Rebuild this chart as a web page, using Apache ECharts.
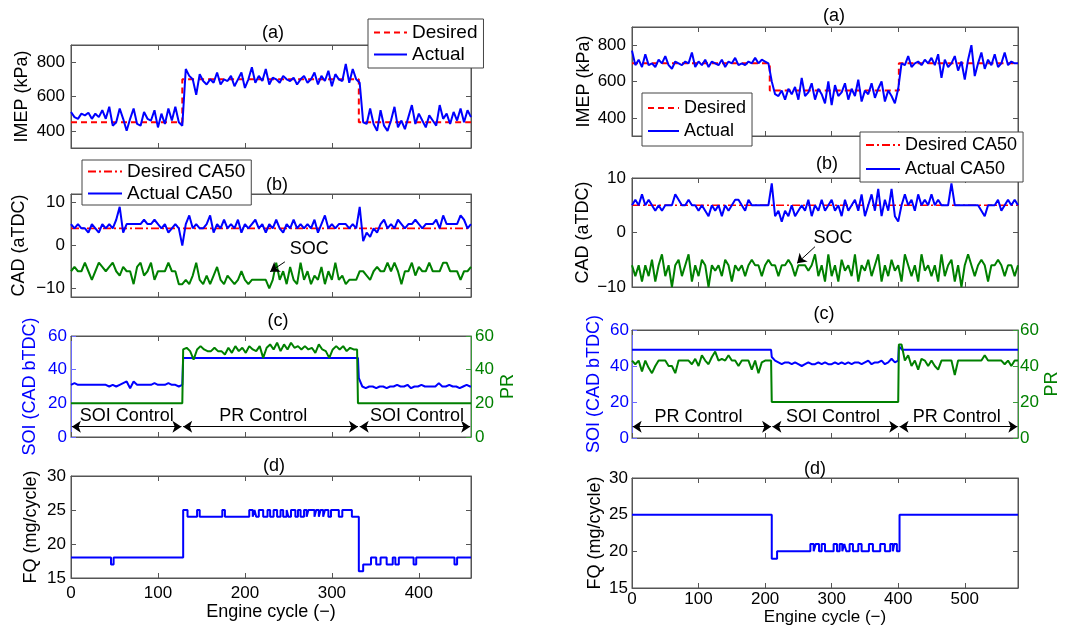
<!DOCTYPE html>
<html><head><meta charset="utf-8">
<script src="https://cdn.jsdelivr.net/npm/echarts@6/dist/echarts.min.js"></script>
<style>html,body{margin:0;padding:0;background:#fff}#c{width:1077px;height:636px}</style>
</head><body><div id="c"></div>
<script>
const FONT = "'Liberation Sans', Arial, Helvetica, sans-serif";
// ---------- tick labels ----------
const xTicksLeft = [0,100,200,300,400];
const xTicksRight = [0,100,200,300,400,500];
const imepTicks = [400,600,800];
const cadTicks = [-10,0,10];
const soiTicks = [0,20,40,60];
const fqTicks = [15,20,25,30];
// sampling interval (engine cycles) of the sampled series
const LEFT_STEP = 4;
const RIGHT_STEP = 5;

// ---------- LEFT experiment (0..460 cycles) ----------
const imepDesiredLeft = [[0,450],[128,700],[331,450],[460,450]];
const imepActualLeft = [
 510,480,470,500,490,505,470,500,480,520,
 470,540,430,450,530,470,400,470,530,440,
 430,510,470,460,520,420,500,440,530,460,
 540,450,430,760,720,700,610,730,690,670,
 700,680,740,670,700,690,720,660,700,740,
 650,700,770,680,720,690,760,670,710,700,
 680,720,700,690,710,670,700,720,680,700,
 740,670,720,690,750,660,730,700,690,790,
 680,760,700,680,450,440,530,440,400,520,
 430,400,460,540,420,460,410,480,550,440,
 500,460,420,490,460,430,550,470,500,440,
 510,460,530,450,520,480];
const ca50DesiredLeft = [[0,4],[460,4]];
const ca50ActualLeft = [
 5,4,5,4,4,3,5,4,3,5,
 4,5,4,6,9,3,5,5,5,5,
 5,6,5,5,6,5,4,5,3,4,
 5,4,0,5,7,4,5,4,4,5,
 7,3,5,4,6,4,5,4,6,3,
 5,4,5,6,4,5,3,5,4,6,
 4,3,5,4,6,4,5,4,5,4,
 6,3,5,7,4,5,4,5,5,5,
 4,5,4,9,1,3,2,4,3,5,
 6,4,5,4,6,5,4,5,5,6,
 5,4,5,5,5,6,4,7,5,5,
 5,5,7,6,4,5];
const socLeft = [
 -6,-5,-6,-6,-4,-6,-8,-6,-4,-5,
 -6,-5,-4,-6,-7,-5,-6,-6,-9,-5,
 -4,-7,-6,-4,-8,-6,-6,-6,-4,-6,
 -6,-9,-9,-8,-9,-7,-4,-8,-9,-7,
 -9,-7,-5,-8,-9,-7,-8,-9,-8,-6,
 -8,-9,-8,-8,-8,-8,-8,-10,-8,-4,
 -8,-6,-9,-5,-8,-9,-4,-8,-6,-9,
 -7,-8,-5,-9,-6,-8,-4,-8,-7,-9,
 -8,-8,-8,-6,-6,-7,-8,-6,-5,-6,
 -6,-4,-6,-4,-6,-9,-6,-6,-4,-7,
 -5,-6,-6,-4,-6,-6,-6,-4,-4,-6,
 -6,-6,-8,-6,-6,-5];
// SOI: sampled SOI-control sections + constant PR-control section
const soiLeftFirst = [            // cycles 0..128, every 4
 31,32,31,31,31,31,31,31,31,31,
 31,30,31,30,31,32,33,29,33,31,
 31,31,31,31,32,31,31,31,32,31,
 31,30,31];
const soiLeftHeld = [[129,47],[330,47]];
const soiLeftLast = [             // cycles 331..459, every 4
 35,30,29,30,30,29,30,30,29,30,
 30,31,30,30,31,29,30,30,31,30,
 30,30,30,32,30,30,31,30,30,29,
 30,31,30];
// PR: constant in SOI-control sections, sampled in PR-control section
const prLeftHeldA = [[0,20],[128,20]];
const prLeftMid = [               // cycles 129..329, every 4
 52,53,51,46,52,54,52,51,51,53,
 51,51,49,53,50,54,51,53,50,54,
 52,51,54,47,53,55,52,56,51,55,
 52,56,53,54,52,54,52,53,50,55,
 52,51,47,52,54,52,54,51,53,52,
 52];
const prLeftHeldB = [[330,20],[460,20]];
// fuel quantity: [cycle where value starts, value]
const fqLeft = [[0,18],[46,17],[49,18],[129,25],[134,24],[145,25],[148,24],[174,25],[177,24],
 [205,25],[209,24],[211,25],[213,24],[216,25],[221,24],[226,25],[229,24],[233,25],[237,24],
 [241,25],[244,24],[248,25],[250,24],[253,25],[258,24],[261,25],[264,24],[268,25],[271,24],
 [273,25],[280,24],[282,25],[285,24],[287,25],[290,24],[292,25],[296,24],[299,25],[308,24],
 [312,25],[323,24],[331,16],[336,17],[345,18],[351,17],[356,18],[363,17],[370,18],[373,17],
 [377,18],[394,17],[397,18],[441,17],[444,18],[460,18]];

// ---------- RIGHT experiment (0..580 cycles) ----------
const imepDesiredRight = [[0,700],[207,550],[401,700],[580,700]];
const imepActualRight = [
 770,690,720,680,750,690,700,680,720,700,
 740,690,670,710,700,690,710,700,760,680,
 710,690,720,680,710,700,690,720,680,710,
 700,730,690,700,690,710,700,730,700,720,
 710,700,600,530,520,550,500,560,530,570,
 500,620,520,540,590,500,560,530,480,600,
 470,580,520,540,590,500,560,520,610,490,
 550,530,590,510,560,600,490,550,520,480,
 560,700,690,740,680,700,710,690,720,700,
 730,690,750,620,720,680,700,740,660,710,
 610,720,800,630,700,760,670,720,690,750,
 680,700,760,690,710,700,700];
const ca50DesiredRight = [[0,5],[580,5]];
const ca50ActualRight = [
 5,6,5,7,5,6,5,4,5,4,
 5,5,5,7,6,5,5,6,5,5,
 4,5,4,3,5,4,5,3,5,4,
 5,6,6,5,4,6,5,5,5,5,
 5,5,9,3,4,2,4,3,5,3,
 4,5,4,6,3,5,4,6,4,5,
 6,4,5,3,6,4,5,6,4,7,
 3,5,7,4,8,3,6,4,8,3,
 2,5,7,5,6,4,7,5,6,5,
 7,5,6,5,5,5,9,5,5,5,
 5,5,5,5,5,4,3,5,5,5,
 6,4,5,6,5,6,5];
const socRight = [
 -6,-8,-6,-9,-6,-8,-5,-9,-6,-4,
 -8,-6,-10,-6,-5,-8,-6,-4,-9,-6,
 -8,-5,-6,-10,-6,-7,-6,-8,-5,-6,
 -9,-6,-7,-6,-8,-6,-5,-6,-6,-8,
 -6,-5,-6,-6,-8,-6,-6,-5,-6,-8,
 -6,-6,-6,-7,-6,-4,-8,-6,-9,-4,
 -8,-6,-9,-5,-7,-6,-8,-4,-9,-6,
 -7,-5,-8,-6,-4,-9,-6,-8,-5,-7,
 -6,-9,-4,-6,-8,-6,-9,-4,-7,-6,
 -8,-6,-9,-4,-8,-6,-5,-9,-6,-10,
 -6,-4,-6,-8,-6,-5,-6,-9,-6,-6,
 -5,-6,-8,-6,-6,-8,-6];
const soiRightHeldA = [[0,49],[209,49]];
const soiRightMid = [             // cycles 210..400, every 5
 45,43,42,41,42,42,41,42,41,40,
 41,42,41,41,42,41,42,41,41,42,
 41,42,41,42,41,42,42,41,42,43,
 41,42,42,43,41,42,44,42,43];
const soiRightHeldB = [[401,51],[406,49],[580,49]];
const prRightFirst = [            // cycles 0..205, every 5
 43,41,43,37,43,39,36,40,43,43,
 43,40,40,36,43,43,43,43,41,44,
 40,46,43,41,45,48,43,44,43,46,
 43,43,40,43,43,43,38,43,36,42,
 43,43];
const prRightHeld = [[209,43],[210,20],[400,20],[401,52]];
const prRightLast = [             // cycles 405..580, every 5
 52,43,46,40,43,38,44,43,40,
 43,40,38,43,43,43,43,35,43,43,
 43,43,43,43,43,43,46,43,43,43,
 43,43,41,43,40,43,43];
const fqRight = [[0,25],[210,19],[218,20],[268,21],[273,20],[276,21],[281,20],[285,21],[290,20],
 [303,21],[308,20],[312,21],[316,20],[319,21],[322,20],[327,21],[332,20],[340,21],[345,20],
 [356,21],[362,20],[373,21],[380,20],[388,21],[392,20],[394,21],[398,20],[402,25],[580,25]];

// ---------- helpers ----------
const seq = (vals, step, start) => vals.map((v, i) => [(start || 0) + i * step, v]);
const fmt = v => (v < 0 ? '\u2212' + Math.abs(v) : String(v));
const AX = '#555', BLUE = '#0000ff', RED = '#ff0000', GREEN = '#008000';

const grids = [
  {left:71, top:45, width:400, height:103},
  {left:71, top:194, width:400, height:103},
  {left:71, top:336, width:400, height:101},
  {left:71, top:476, width:400, height:102},
  {left:632, top:27, width:386, height:109},
  {left:632, top:178, width:386, height:109},
  {left:632, top:330, width:386, height:108},
  {left:632, top:478, width:386, height:110}
].map(g => Object.assign({show:true, borderColor:AX, borderWidth:1, containLabel:false}, g));

function xPair(g, max, ticks, withLabel, gap, margin, nameSize) {
  const base = {type:'value', gridIndex:g, min:0, max:max, splitLine:{show:false},
    axisLine:{show:true, onZero:false, lineStyle:{color:AX}},
    axisTick:{show:true, inside:true, length:5, customValues:ticks, lineStyle:{color:AX}}};
  const bottom = Object.assign({}, base, {position:'bottom',
    axisLabel:{show:withLabel, customValues:ticks, fontSize:17, color:'#000', fontFamily:FONT, margin:margin}});
  if (withLabel) Object.assign(bottom, {name:'Engine cycle (\u2212)', nameLocation:'middle', nameGap:gap,
    nameTextStyle:{fontSize:nameSize, color:'#000', fontFamily:FONT}});
  const top = Object.assign({}, base, {position:'top', axisLabel:{show:false}});
  return [bottom, top];
}
function yPair(g, min, max, ticks, name, gap, o) {
  o = o || {};
  const colL = o.colL || AX, txtL = o.txtL || '#000', ns = o.ns || 18;
  const left = {type:'value', gridIndex:g, position:'left', min, max, splitLine:{show:false},
    axisLine:{show:true, onZero:false, lineStyle:{color:colL}},
    axisTick:{show:true, inside:true, length:5, customValues:ticks, lineStyle:{color:colL}},
    axisLabel:{show:true, customValues:ticks, fontSize:17, color:txtL, fontFamily:FONT, margin:o.mL || 6, formatter:fmt},
    name, nameLocation:'middle', nameGap:gap, nameTextStyle:{fontSize:ns, color:txtL, fontFamily:FONT}};
  let right;
  if (o.rightName) {
    right = {type:'value', gridIndex:g, position:'right', min, max, splitLine:{show:false},
      axisLine:{show:true, onZero:false, lineStyle:{color:'#3a9a3a'}},
      axisTick:{show:true, inside:true, length:5, customValues:ticks, lineStyle:{color:'#3a9a3a'}},
      axisLabel:{show:true, customValues:ticks, fontSize:17, color:GREEN, fontFamily:FONT, margin:o.mR || 3},
      name:o.rightName, nameLocation:'middle', nameGap:o.gapR, nameTextStyle:{fontSize:ns, color:GREEN, fontFamily:FONT}};
  } else {
    right = {type:'value', gridIndex:g, position:'right', min, max, splitLine:{show:false},
      axisLine:{show:true, onZero:false, lineStyle:{color:AX}},
      axisTick:{show:true, inside:true, length:5, customValues:ticks, lineStyle:{color:AX}},
      axisLabel:{show:false}};
  }
  return [left, right];
}

const xAxis = [].concat(
  xPair(0, 460, xTicksLeft, false), xPair(1, 460, xTicksLeft, false),
  xPair(2, 460, xTicksLeft, false), xPair(3, 460, xTicksLeft, true, 19, 7, 18),
  xPair(4, 580, xTicksRight, false), xPair(5, 580, xTicksRight, false),
  xPair(6, 580, xTicksRight, false), xPair(7, 580, xTicksRight, true, 20, 3, 17)
);
const yAxis = [].concat(
  yPair(0, 300, 900, imepTicks, 'IMEP (kPa)', 40),
  yPair(1, -12, 12, cadTicks, 'CAD (aTDC)', 43),
  yPair(2, 0, 60, soiTicks, 'SOI (CAD bTDC)', 32, {colL:'#6a6aff', txtL:BLUE, mL:4, rightName:'PR', gapR:28, mR:4}),
  yPair(3, 15, 30, fqTicks, 'FQ (mg/cycle)', 31, {mL:5}),
  yPair(4, 300, 900, imepTicks, 'IMEP (kPa)', 39),
  yPair(5, -10, 10, cadTicks, 'CAD (aTDC)', 40),
  yPair(6, 0, 60, soiTicks, 'SOI (CAD bTDC)', 29, {colL:'#6a6aff', txtL:BLUE, mL:3, rightName:'PR', gapR:24, mR:2}),
  yPair(7, 15, 30, fqTicks, 'FQ (mg/cycle)', 28, {mL:4})
);

function line(name, data, g, color, extra) {
  return Object.assign({type:'line', name, data, xAxisIndex:2*g, yAxisIndex:2*g, symbol:'none', showSymbol:false,
    animation:false, silent:true, lineStyle:{color, width:2}, itemStyle:{color}, emphasis:{disabled:true}}, extra || {});
}
const dashed = {color:RED, width:2, type:[6,4]};
const dashDot = {color:RED, width:1.6, type:[8,3,2,3]};
const annoLabel = {show:true, position:'inside', color:'#000', fontSize:18, fontFamily:FONT, formatter:p => p.name};
function textMarks(items) {
  return {symbol:'circle', symbolSize:1, silent:true, itemStyle:{color:'rgba(0,0,0,0)'}, label:annoLabel,
    data:items.map(t => ({name:t[0], coord:[t[1], t[2]]}))};
}
function arrowMarks(segs, sym) {
  return {silent:true, symbol:sym, symbolSize:9, label:{show:false}, lineStyle:{color:'#000', width:1, type:'solid'},
    emphasis:{disabled:true}, animation:false,
    data:segs.map(s => [{coord:[s[0], s[1]]}, {coord:[s[2], s[3]]}])};
}

const soiLeftData = seq(soiLeftFirst, LEFT_STEP, 0).concat(soiLeftHeld, seq(soiLeftLast, LEFT_STEP, 331), [[460,30]]);
const prLeftData = prLeftHeldA.concat(seq(prLeftMid, LEFT_STEP, 129), prLeftHeldB);
const soiRightData = soiRightHeldA.concat(seq(soiRightMid, RIGHT_STEP, 210), soiRightHeldB);
const prRightData = seq(prRightFirst, RIGHT_STEP, 0).concat(prRightHeld, seq(prRightLast, RIGHT_STEP, 405));

const series = [
  line('Desired', imepDesiredLeft, 0, RED, {step:'end', lineStyle:dashed}),
  line('Actual', seq(imepActualLeft, LEFT_STEP), 0, BLUE),
  line('Desired CA50', ca50DesiredLeft, 1, RED, {lineStyle:dashDot}),
  line('Actual CA50', seq(ca50ActualLeft, LEFT_STEP), 1, BLUE),
  line('SOC', seq(socLeft, LEFT_STEP), 1, GREEN, {
    markLine:arrowMarks([[246,-3.8,229,-6.1]], ['none','arrow']),
    markPoint:textMarks([['SOC',274,-0.8]])}),
  line('SOI', soiLeftData, 2, BLUE, {
    markLine:arrowMarks([[1,6.1,127,6.1],[129,6.1,330,6.1],[332,6.1,459,6.1]], ['arrow','arrow']),
    markPoint:textMarks([['SOI Control',64,12.2],['PR Control',221,12.2],['SOI Control',398,12.2]])}),
  line('PR', prLeftData, 2, GREEN, {yAxisIndex:5}),
  line('FQ', fqLeft, 3, BLUE, {step:'end'}),

  line('Desired', imepDesiredRight, 4, RED, {step:'end', lineStyle:dashed}),
  line('Actual', seq(imepActualRight, RIGHT_STEP), 4, BLUE),
  line('Desired CA50', ca50DesiredRight, 5, RED, {lineStyle:dashDot}),
  line('Actual CA50', seq(ca50ActualRight, RIGHT_STEP), 5, BLUE),
  line('SOC', seq(socRight, RIGHT_STEP), 5, GREEN, {
    markLine:arrowMarks([[275,-2.6,248,-5.65]], ['none','arrow']),
    markPoint:textMarks([['SOC',302,-1.0]])}),
  line('SOI', soiRightData, 6, BLUE, {
    markLine:arrowMarks([[1,6.3,209,6.3],[211,6.3,400,6.3],[402,6.3,579,6.3]], ['arrow','arrow']),
    markPoint:textMarks([['PR Control',100,11.9],['SOI Control',302,11.9],['PR Control',488,11.9]])}),
  line('PR', prRightData, 6, GREEN, {yAxisIndex:13}),
  line('FQ', fqRight, 7, BLUE, {step:'end'})
];

const titleSpec = [['(a)',273,34],['(b)',277,186],['(c)',278,322],['(d)',274,467],
                   ['(a)',834,17],['(b)',827,165],['(c)',824,315],['(d)',815,470]];
const title = titleSpec.map(t => ({text:t[0], left:t[1], top:t[2]-10, textAlign:'center', padding:0,
  textStyle:{fontSize:18, fontWeight:'normal', color:'#000', fontFamily:FONT}}));

function legendBox(names, left, top, pad, gap, fs, iw) {
  return {data:names, orient:'vertical', left, top, padding:pad, itemGap:gap, itemWidth:iw, itemHeight:14,
    backgroundColor:'#fff', borderColor:'#444', borderWidth:1, borderRadius:0, selectedMode:false, z:20,
    itemStyle:{opacity:0}, textStyle:{fontSize:fs, color:'#000', fontFamily:FONT}};
}
const legend = [
  legendBox(['Desired','Actual'], 368, 19, [4,6,4,5], 3, 19, 33),
  legendBox(['Desired CA50','Actual CA50'], 82, 160, [2,6,2,5], 3, 19, 34),
  legendBox(['Desired','Actual'], 642, 93, [6,6,6,5], 5, 18, 31),
  legendBox(['Desired CA50','Actual CA50'], 860, 132, [4,6,4,5], 6, 18, 34)
];

const chart = echarts.init(document.getElementById('c'), null, {renderer:'canvas'});
chart.setOption({animation:false, backgroundColor:'#fff', textStyle:{fontFamily:FONT},
  title, legend, grid:grids, xAxis, yAxis, series});
</script></body></html>
